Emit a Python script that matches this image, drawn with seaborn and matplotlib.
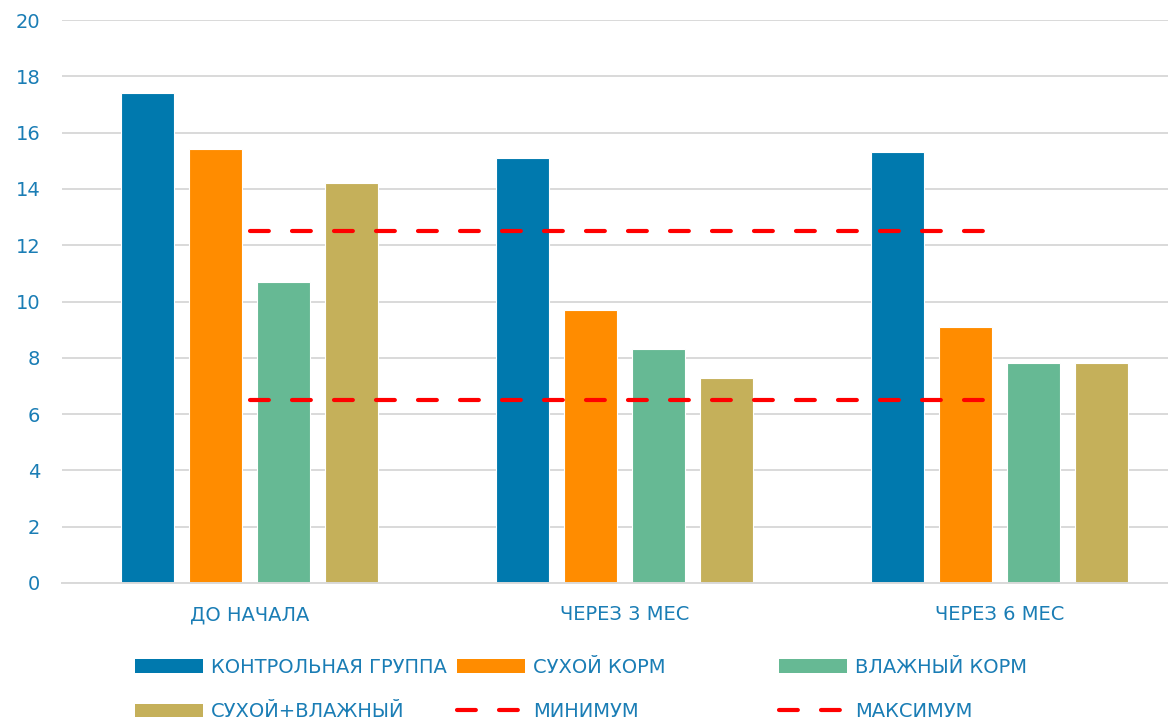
import matplotlib
matplotlib.use("Agg")
import matplotlib.pyplot as plt
import seaborn as sns
import numpy as np
import pandas as pd
from matplotlib.patches import Patch
from matplotlib.lines import Line2D

categories = ["ДО НАЧАЛА", "ЧЕРЕЗ 3 МЕС", "ЧЕРЕЗ 6 МЕС"]
series_names = ["КОНТРОЛЬНАЯ ГРУППА", "СУХОЙ КОРМ", "ВЛАЖНЫЙ КОРМ", "СУХОЙ+ВЛАЖНЫЙ"]
control = [17.4, 15.1, 15.3]
dry = [15.4, 9.7, 9.1]
wet = [10.7, 8.3, 7.8]
dry_wet = [14.2, 7.3, 7.8]
minimum = [6.5, 6.5, 6.5]
maximum = [12.5, 12.5, 12.5]
y_ticks = [0, 2, 4, 6, 8, 10, 12, 14, 16, 18, 20]

colors = ["#0079AE", "#FF8C00", "#66B994", "#C5B05A"]
text_color = "#1a7db5"
red = "#FF0000"

sns.set_theme(style="white")
plt.rcParams['font.family'] = ['DejaVu Sans']

rows = []
for name, vals in zip(series_names, [control, dry, wet, dry_wet]):
    for c, v in zip(categories, vals):
        rows.append({"cat": c, "series": name, "value": v})
df = pd.DataFrame(rows)

fig = plt.figure(figsize=(11.68, 7.22), dpi=100)
ax = fig.add_axes([62/1168, (722-583)/722, 1125/1168, 563/722])

sns.barplot(data=df, x="cat", y="value", hue="series", order=categories,
            hue_order=series_names, palette=dict(zip(series_names, colors)),
            width=0.725, gap=0.22, saturation=1, edgecolor="white",
            linewidth=0.8, legend=False, ax=ax, errorbar=None)

pos = np.arange(len(categories))
dash = (0, (4.52, 5.56))
sns.lineplot(x=pos, y=minimum, ax=ax, color=red, linewidth=3.0,
             linestyle=dash, dash_capstyle="round")
sns.lineplot(x=pos, y=maximum, ax=ax, color=red, linewidth=3.0,
             linestyle=dash, dash_capstyle="round")

ax.set_xlim(-0.5, 2.5)
ax.set_ylim(0, 20)
ax.set_yticks(y_ticks)
ax.set_xticks(pos)
ax.set_xticklabels(categories)
ax.set_xlabel("")
ax.set_ylabel("")
ax.yaxis.grid(True, color="#d9d9d9", linewidth=1.4)
ax.set_axisbelow(True)
for s in ["top", "right", "left"]:
    ax.spines[s].set_visible(False)
ax.spines["bottom"].set_color("#d9d9d9")
ax.spines["bottom"].set_linewidth(1.4)
ax.tick_params(axis="both", length=0, labelsize=14, labelcolor=text_color)
ax.tick_params(axis="x", pad=16)
ax.tick_params(axis="y", pad=15.5)
for lab in ax.get_yticklabels():
    lab.set_horizontalalignment("right")

def bar_handle(c):
    return Patch(facecolor=c, edgecolor="none")

def line_handle():
    return Line2D([0], [0], color=red, linewidth=3.0, linestyle=(0, (4.52, 5.56)),
                  dash_capstyle="round")

columns = [
    ([bar_handle(colors[0]), bar_handle(colors[3])], [series_names[0], series_names[3]], 135),
    ([bar_handle(colors[1]), line_handle()], [series_names[1], "МИНИМУМ"], 457),
    ([bar_handle(colors[2]), line_handle()], [series_names[2], "МАКСИМУМ"], 779),
]
for handles, labels, x0 in columns:
    leg = fig.legend(handles, labels, loc="upper left",
                     bbox_to_anchor=(x0/1168, 1 - 658/722),
                     frameon=False, fontsize=14, handlelength=3.5,
                     handleheight=0.72, handletextpad=0.4, labelspacing=1.3,
                     borderpad=0, borderaxespad=0, labelcolor=text_color)

fig.savefig("out.png", dpi=100)
